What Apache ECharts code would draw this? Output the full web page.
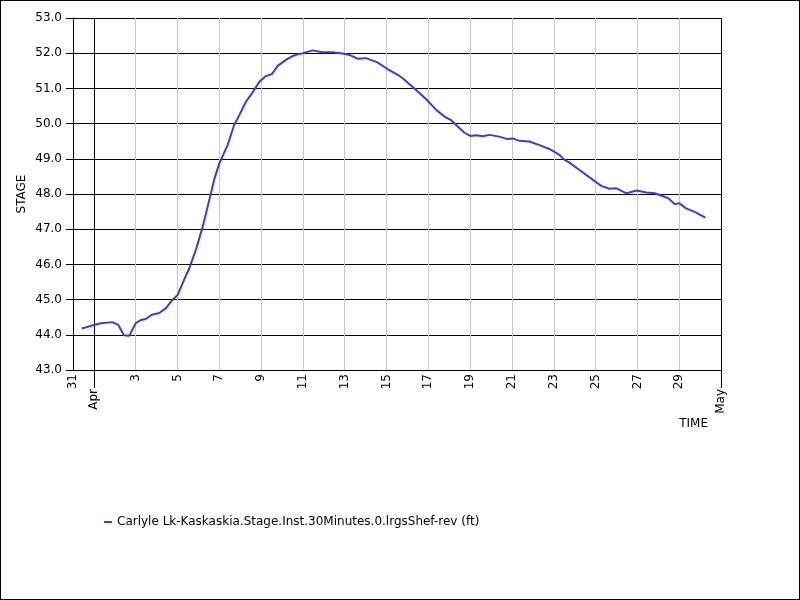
<!DOCTYPE html>
<html>
<head>
<meta charset="utf-8">
<script src="https://cdn.jsdelivr.net/npm/echarts@6/dist/echarts.min.js"></script>
<style>
  body { margin: 0; background: #fff; }
  #chart { position: absolute; left: 0; top: 0; width: 800px; height: 600px; }
  #frame { position: absolute; left: 0; top: 0; width: 800px; height: 600px; box-sizing: border-box; border: 1px solid #000; pointer-events: none; }
</style>
</head>
<body>
<div id="chart"></div>
<div id="frame"></div>
<script>
// tick labels, one per day from Mar 31 to May 1
const dayLabels = ['31', 'Apr', '2', '3', '4', '5', '6', '7', '8', '9', '10',
  '11', '12', '13', '14', '15', '16', '17', '18', '19', '20',
  '21', '22', '23', '24', '25', '26', '27', '28', '29', '30', 'May'];

// observation times (month-day hour:min)
const times = [
  '03-31 10:00', '04-01 00:00', '04-01 08:00', '04-01 21:00', '04-02 04:00', '04-02 10:30',
  '04-02 16:30', '04-03 00:00', '04-03 06:00', '04-03 11:30', '04-03 18:30', '04-04 03:00',
  '04-04 10:30', '04-04 17:30', '04-05 00:00', '04-05 07:30', '04-05 13:30', '04-05 21:00',
  '04-06 04:30', '04-06 12:00', '04-06 18:00', '04-07 00:00', '04-07 09:30', '04-07 17:00',
  '04-07 23:00', '04-08 06:30', '04-08 14:00', '04-08 22:00', '04-09 05:30', '04-09 12:30',
  '04-09 19:00', '04-10 04:30', '04-10 12:00', '04-10 19:30', '04-11 00:00', '04-11 11:00',
  '04-11 22:30', '04-12 10:00', '04-12 21:30', '04-13 05:30', '04-13 15:00', '04-14 00:30',
  '04-14 13:30', '04-15 01:00', '04-15 14:30', '04-15 18:30', '04-16 08:00', '04-16 21:30',
  '04-17 09:00', '04-17 18:30', '04-18 02:00', '04-18 10:00', '04-18 17:30', '04-19 00:00',
  '04-19 07:00', '04-19 14:30', '04-19 22:00', '04-20 09:30', '04-20 19:00', '04-21 01:00',
  '04-21 08:30', '04-21 20:00', '04-22 07:30', '04-22 19:00', '04-23 06:30', '04-23 12:30',
  '04-23 18:00', '04-24 05:30', '04-24 21:00', '04-25 06:30', '04-25 16:00', '04-26 00:00',
  '04-26 11:30', '04-26 23:00', '04-27 10:30', '04-27 20:00', '04-28 11:30', '04-28 19:00',
  '04-29 00:00', '04-29 08:00', '04-29 19:30', '04-30 06:00'
];

// stage (ft)
const stage = [
  44.18, 44.28, 44.33, 44.36, 44.28, 43.99,
  43.97, 44.33, 44.42, 44.45, 44.57, 44.62,
  44.75, 44.97, 45.13, 45.56, 45.89, 46.41,
  47.03, 47.78, 48.40, 48.87, 49.39, 49.96,
  50.24, 50.62, 50.88, 51.19, 51.35, 51.41,
  51.64, 51.81, 51.92, 51.98, 52.00, 52.08,
  52.03, 52.03, 51.99, 51.95, 51.84, 51.86,
  51.74, 51.55, 51.36, 51.29, 51.00, 50.69,
  50.39, 50.20, 50.10, 49.91, 49.74, 49.65,
  49.67, 49.64, 49.68, 49.63, 49.56, 49.58,
  49.51, 49.49, 49.39, 49.28, 49.11, 48.97,
  48.89, 48.68, 48.40, 48.23, 48.15, 48.16,
  48.02, 48.10, 48.04, 48.02, 47.88, 47.71,
  47.74, 47.59, 47.47, 47.33
];

const seriesName = 'Carlyle Lk-Kaskaskia.Stage.Inst.30Minutes.0.lrgsShef-rev (ft)';
const font = 'DejaVu Sans';

// days since Mar 31 00:00
function toDay(t) {
  const m = +t.slice(0, 2), d = +t.slice(3, 5);
  const h = +t.slice(6, 8), mi = +t.slice(9, 11);
  const start = m === 3 ? d - 31 : d;
  return start + (h + mi / 60) / 24;
}

const points = times.map((t, i) => [toDay(t), stage[i]]);

// vertical grid: black at month starts, grey on odd days
const vColors = [];
dayLabels.forEach((lab, i) => {
  if (i % 2 === 1) vColors.push(i === 1 || i === 31 ? '#000' : '#c8c8c8');
});

const chart = echarts.init(document.getElementById('chart'), null, { renderer: 'canvas' });
chart.setOption({
  animation: false,
  backgroundColor: '#fff',
  textStyle: { fontFamily: font },
  grid: { left: 73, top: 18, right: 79, bottom: 230, containLabel: false, outerBoundsMode: 'none' },
  legend: {
    data: [seriesName],
    left: 99,
    top: 511,
    icon: 'rect',
    itemWidth: 8,
    itemHeight: 2,
    textStyle: { fontFamily: font, fontSize: 12, color: '#000' }
  },
  xAxis: [
    { type: 'value', min: 0, max: 31, show: false },
    {
      type: 'category',
      position: 'bottom',
      data: dayLabels,
      boundaryGap: false,
      name: 'TIME',
      nameLocation: 'end',
      nameGap: -13,
      nameMoveOverlap: false,
      nameTextStyle: { fontFamily: font, fontSize: 12, color: '#000', align: 'right', verticalAlign: 'top', padding: [48, 0, 0, 0] },
      axisLine: { show: true, lineStyle: { color: '#000', width: 1 } },
      axisTick: {
        show: true,
        length: 18,
        interval: (i) => i === 1 || i === 31,
        lineStyle: { color: '#000' }
      },
      axisLabel: {
        rotate: 90,
        margin: 4,
        interval: (i) => i === 0 || i % 2 === 1,
        fontFamily: font,
        fontSize: 12,
        color: '#000',
        formatter: (v, i) => (i === 1 || i === 31) ? '{m|' + v + '}' : v,
        rich: { m: { fontFamily: font, fontSize: 12, color: '#000', padding: [0, 15, 0, 0] } }
      },
      splitLine: {
        show: true,
        interval: (i) => i % 2 === 1,
        lineStyle: { color: vColors, width: 1 }
      }
    }
  ],
  yAxis: {
    type: 'value',
    min: 43,
    max: 53,
    interval: 1,
    name: 'STAGE',
    nameLocation: 'middle',
    nameGap: 45,
    nameMoveOverlap: false,
    nameTextStyle: { fontFamily: font, fontSize: 12, color: '#000' },
    axisLine: { show: true, lineStyle: { color: '#000', width: 1 } },
    axisTick: { show: true, length: 7, lineStyle: { color: '#000' } },
    axisLabel: {
      margin: 11,
      fontFamily: font,
      fontSize: 12,
      color: '#000',
      formatter: (v) => v.toFixed(1)
    },
    splitLine: { show: true, lineStyle: { color: '#000', width: 1 } }
  },
  series: [{
    name: seriesName,
    type: 'line',
    xAxisIndex: 0,
    data: points,
    showSymbol: false,
    symbol: 'none',
    color: '#3c3cdc',
    lineStyle: { color: '#3c3cdc', width: 2 },
    z: 5
  }]
});
</script>
</body>
</html>
